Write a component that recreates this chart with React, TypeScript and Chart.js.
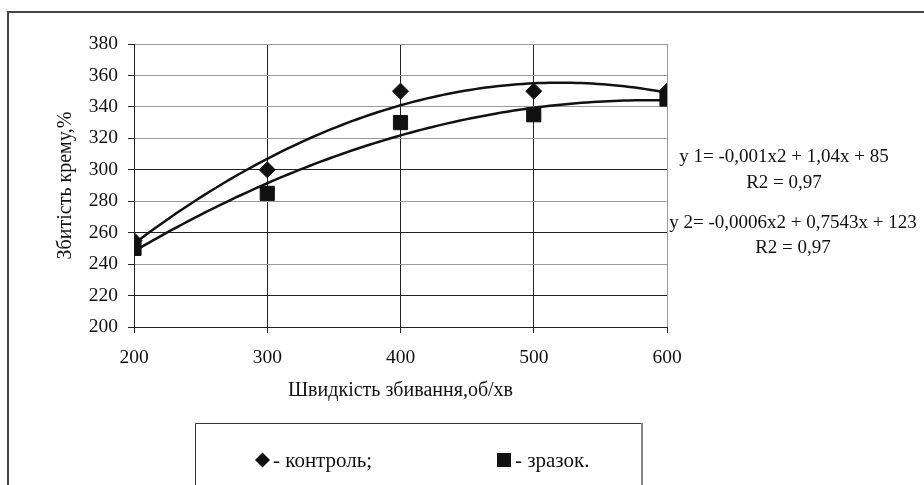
import { useEffect, useRef } from "react";
import { Chart, registerables } from "chart.js";

Chart.register(...registerables);

// ---- data ----
const speeds = [200, 300, 400, 500, 600];
const controlValues = [255, 300, 350, 350, 350];
const sampleValues = [250, 285, 330, 335, 345];
const seriesNames = ["- контроль;", "- зразок."];
const equationLines = [
  "y 1= -0,001x2 + 1,04x + 85",
  "R2 = 0,97",
  "y 2= -0,0006x2 + 0,7543x + 123",
  "R2 = 0,97",
];
const xTitle = "Швидкість збивання,об/хв";
const yTitle = "Збитість крему,%";
const xMin = 200, xMax = 600, xStep = 100;
const yMin = 200, yMax = 380, yStep = 20;

// least-squares quadratic trendline (as the spreadsheet's polynomial trendline)
function quadFit(xs: number[], ys: number[]) {
  let s0 = 0, s1 = 0, s2 = 0, s3 = 0, s4 = 0, t0 = 0, t1 = 0, t2 = 0;
  xs.forEach((x, i) => {
    const y = ys[i];
    s0 += 1; s1 += x; s2 += x * x; s3 += x * x * x; s4 += x * x * x * x;
    t0 += y; t1 += x * y; t2 += x * x * y;
  });
  const M = [
    [s4, s3, s2, t2],
    [s3, s2, s1, t1],
    [s2, s1, s0, t0],
  ];
  for (let c = 0; c < 3; c++) {
    for (let r = c + 1; r < 3; r++) {
      const f = M[r][c] / M[c][c];
      for (let k = c; k < 4; k++) M[r][k] -= f * M[c][k];
    }
  }
  const sol = [0, 0, 0];
  for (let r = 2; r >= 0; r--) {
    let v = M[r][3];
    for (let k = r + 1; k < 3; k++) v -= M[r][k] * sol[k];
    sol[r] = v / M[r][r];
  }
  return sol; // a, b, c
}
function trendPoints(xs: number[], ys: number[]) {
  const [a, b, c] = quadFit(xs, ys);
  const pts: { x: number; y: number }[] = [];
  for (let x = xs[0]; x <= xs[xs.length - 1] + 1e-9; x += 4) {
    pts.push({ x, y: a * x * x + b * x + c });
  }
  return pts;
}

const SERIF = "'Liberation Serif', 'Times New Roman', serif";
const INK = "#111";

export default function App() {
  const ref = useRef<HTMLCanvasElement>(null);

  useEffect(() => {
    const canvas = ref.current!;
    const darkY = [220, 260, 300];
    const darkX = [200, 300, 400, 500];

    const decor = {
      id: "decor",
      afterDraw(chart: any) {
        const ctx = chart.ctx as CanvasRenderingContext2D;
        ctx.save();
        // outer frame
        ctx.strokeStyle = "#444";
        ctx.lineWidth = 2;
        ctx.beginPath();
        ctx.moveTo(8, 490);
        ctx.lineTo(8, 12);
        ctx.lineTo(930, 12);
        ctx.stroke();

        // equations
        ctx.fillStyle = INK;
        ctx.font = `19px ${SERIF}`;
        ctx.textAlign = "center";
        ctx.textBaseline = "middle";
        ctx.fillText(equationLines[0], 784, 157);
        ctx.fillText(equationLines[1], 784, 183);
        ctx.fillText(equationLines[2], 793, 223);
        ctx.fillText(equationLines[3], 793, 248);

        // legend box
        ctx.lineWidth = 1;
        ctx.strokeStyle = "#333";
        ctx.beginPath();
        ctx.moveTo(195.5, 490);
        ctx.lineTo(195.5, 423.5);
        ctx.lineTo(641, 423.5);
        ctx.stroke();
        ctx.strokeStyle = "#888";
        ctx.lineWidth = 2;
        ctx.beginPath();
        ctx.moveTo(642, 423);
        ctx.lineTo(642, 490);
        ctx.stroke();

        // legend markers
        ctx.fillStyle = INK;
        ctx.beginPath();
        ctx.moveTo(255, 460);
        ctx.lineTo(262.5, 452.5);
        ctx.lineTo(270, 460);
        ctx.lineTo(262.5, 467.5);
        ctx.closePath();
        ctx.fill();
        ctx.fillRect(497, 453, 14, 14);

        ctx.font = `21px ${SERIF}`;
        ctx.textAlign = "left";
        ctx.fillText(seriesNames[0], 273, 461);
        ctx.fillText(seriesNames[1], 515, 461);
        ctx.restore();
      },
    };

    const chart = new Chart(canvas, {
      type: "scatter",
      data: {
        datasets: [
          {
            label: "контроль тренд",
            data: trendPoints(speeds, controlValues),
            showLine: true,
            borderColor: "#111",
            borderWidth: 2.5,
            pointRadius: 0,
            fill: false,
            order: 0,
          },
          {
            label: "зразок тренд",
            data: trendPoints(speeds, sampleValues),
            showLine: true,
            borderColor: "#111",
            borderWidth: 2.5,
            pointRadius: 0,
            fill: false,
            order: 0,
          },
          {
            label: "контроль",
            data: speeds.map((x, i) => ({ x, y: controlValues[i] })),
            pointStyle: "rectRot",
            pointRadius: 8,
            backgroundColor: INK,
            borderColor: INK,
            borderWidth: 1,
            showLine: false,
            order: 1,
          },
          {
            label: "зразок",
            data: speeds.map((x, i) => ({ x, y: sampleValues[i] })),
            pointStyle: "rect",
            pointRadius: 10,
            backgroundColor: INK,
            borderColor: INK,
            borderWidth: 1,
            showLine: false,
            order: 2,
          },
        ],
      },
      options: {
        responsive: false,
        animation: false,
        devicePixelRatio: 1,
        layout: { padding: { left: 54, top: 44, right: 257, bottom: 82 } },
        plugins: {
          legend: { display: false },
          tooltip: { enabled: false },
        },
        scales: {
          x: {
            type: "linear",
            min: xMin,
            max: xMax,
            ticks: {
              stepSize: xStep,
              padding: 13,
              color: INK,
              font: { family: SERIF, size: 19.5 },
            },
            grid: {
              color: (c: any) => (c.tick && darkX.includes(c.tick.value) ? "#222" : "#9a9a9a"),
              lineWidth: 1,
              tickLength: 6,
              tickColor: "#222",
            },
            border: { color: "#222", width: 1 },
            title: {
              display: true,
              text: xTitle,
              color: INK,
              font: { family: SERIF, size: 20 },
              padding: 0,
            },
            afterFit(scale: any) {
              scale.height = 76;
            },
          },
          y: {
            type: "linear",
            min: yMin,
            max: yMax,
            ticks: {
              stepSize: yStep,
              padding: 10,
              color: INK,
              font: { family: SERIF, size: 19.5 },
            },
            grid: {
              color: (c: any) => (c.tick && darkY.includes(c.tick.value) ? "#222" : "#9a9a9a"),
              lineWidth: 1,
              tickLength: 6,
              tickColor: "#222",
            },
            border: { color: "#222", width: 1 },
            title: {
              display: true,
              text: yTitle,
              color: INK,
              font: { family: SERIF, size: 20 },
              padding: 0,
            },
            afterFit(scale: any) {
              scale.width = 80;
            },
          },
        },
      },
      plugins: [decor],
    });
    return () => chart.destroy();
  }, []);

  return (
    <div style={{ position: "fixed", left: 0, top: 0, width: 924, height: 485, background: "#fff" }}>
      <canvas ref={ref} width={924} height={485} style={{ width: 924, height: 485, display: "block" }} />
    </div>
  );
}
